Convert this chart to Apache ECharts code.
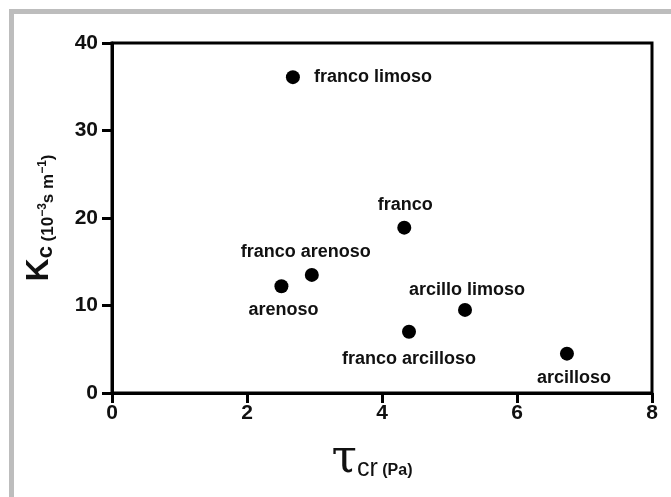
<!DOCTYPE html>
<html>
<head>
<meta charset="utf-8">
<script src="https://cdn.jsdelivr.net/npm/echarts@6/dist/echarts.min.js"></script>
<style>
  html, body { margin: 0; padding: 0; background: #ffffff; }
  #chart { width: 671px; height: 497px; }
</style>
</head>
<body>
<div id="chart"></div>
<script>
// Soil texture classes with critical shear stress (Pa) and erodibility Kc (10^-3 s m^-1)
const soilNames = ['franco limoso', 'franco', 'franco arenoso', 'arenoso', 'franco arcilloso', 'arcillo limoso', 'arcilloso'];
const tauCr = [2.68, 4.33, 2.96, 2.51, 4.40, 5.23, 6.74];
const kc = [36.1, 18.9, 13.5, 12.2, 7.0, 9.5, 4.5];

// Axis ranges and tick spacing
const xTicks = [0, 2, 4, 6, 8];
const yTicks = [0, 10, 20, 30, 40];

// Where each class name sits relative to its marker centre [dx, dy]
const labelOffsets = {
  'franco limoso': [80, 0],
  'franco': [1, -23],
  'franco arenoso': [-6, -23],
  'arenoso': [2, 24],
  'franco arcilloso': [0, 27],
  'arcillo limoso': [2, -20],
  'arcilloso': [7, 24]
};

const FONT = '"Liberation Sans", Arial, Helvetica, sans-serif';

const points = soilNames.map((name, i) => ({
  name: name,
  value: [tauCr[i], kc[i]],
  label: { offset: labelOffsets[name] }
}));

const chart = echarts.init(document.getElementById('chart'), null, { renderer: 'canvas' });

chart.setOption({
  animation: false,
  backgroundColor: '#ffffff',
  graphic: [
    { type: 'rect', shape: { x: 9, y: 9, width: 662, height: 5 }, style: { fill: '#bdbdbd' }, silent: true },
    { type: 'rect', shape: { x: 9, y: 9, width: 5, height: 488 }, style: { fill: '#bdbdbd' }, silent: true }
  ],
  grid: {
    left: 112, right: 19, top: 43, bottom: 104,
    show: true, borderColor: '#000000', borderWidth: 3, backgroundColor: 'transparent'
  },
  xAxis: {
    type: 'value',
    min: xTicks[0], max: xTicks[xTicks.length - 1], interval: xTicks[1] - xTicks[0],
    axisLine: { show: true, lineStyle: { color: '#000', width: 3 } },
    axisTick: { show: true, inside: false, length: 10, lineStyle: { color: '#000', width: 3 } },
    axisLabel: { color: '#111', fontSize: 21, fontWeight: 'bold', fontFamily: FONT, margin: 10 },
    splitLine: { show: false },
    name: '{t|τ}{r|cr}{p| (Pa)}',
    nameLocation: 'middle',
    nameGap: 44,
    nameTextStyle: {
      padding: [0, 20, 0, 0],
      rich: {
        t: { fontSize: 46, fontFamily: '"DejaVu Serif", "Liberation Serif", serif', color: '#111', verticalAlign: 'bottom' },
        r: { fontSize: 25, fontFamily: FONT, color: '#111', verticalAlign: 'bottom', padding: [0, 0, 1, 0] },
        p: { fontSize: 16, fontWeight: 'bold', fontFamily: FONT, color: '#111', verticalAlign: 'bottom', padding: [0, 0, 4, 0] }
      }
    }
  },
  yAxis: {
    type: 'value',
    min: yTicks[0], max: yTicks[yTicks.length - 1], interval: yTicks[1] - yTicks[0],
    axisLine: { show: true, lineStyle: { color: '#000', width: 3 } },
    axisTick: { show: true, inside: false, length: 10, lineStyle: { color: '#000', width: 3 } },
    axisLabel: { color: '#111', fontSize: 21, fontWeight: 'bold', fontFamily: FONT, margin: 14 },
    splitLine: { show: false },
    name: '{k|K}{c|c}{p| (10}{s|−3}{p|s m}{s|−1}{p|)}',
    nameLocation: 'middle',
    nameRotate: 90,
    nameGap: 55,
    nameTextStyle: {
      rich: {
        k: { fontSize: 32, fontWeight: 'bold', fontFamily: FONT, color: '#111', verticalAlign: 'bottom', padding: [0, 0, 2, 0] },
        c: { fontSize: 22, fontWeight: 'bold', fontFamily: FONT, color: '#111', verticalAlign: 'bottom' },
        p: { fontSize: 17, fontWeight: 'bold', fontFamily: FONT, color: '#111', verticalAlign: 'bottom' },
        s: { fontSize: 12, fontWeight: 'bold', fontFamily: FONT, color: '#111', verticalAlign: 'bottom', padding: [0, 0, 8, 0] }
      }
    }
  },
  series: [{
    type: 'scatter',
    data: points,
    symbol: 'circle',
    symbolSize: 14,
    itemStyle: { color: '#000000', opacity: 1 },
    label: {
      show: true,
      position: 'inside',
      formatter: '{b}',
      color: '#111111',
      fontSize: 18,
      fontWeight: 'bold',
      fontFamily: FONT
    }
  }]
});
</script>
</body>
</html>
